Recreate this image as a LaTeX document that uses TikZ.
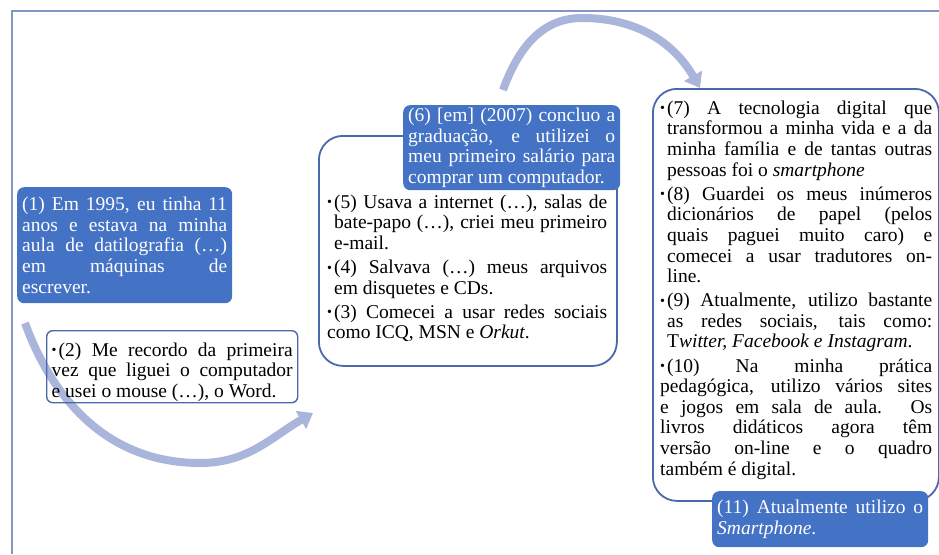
\documentclass[tikz,border=0pt]{standalone}
\usepackage{fontspec}
\setmainfont{Liberation Serif}
\usepackage{tikz}
\usetikzlibrary{arrows.meta,positioning}

\definecolor{boxblue}{RGB}{68,114,196}
\definecolor{edgeblue}{RGB}{74,104,172}
\definecolor{arcblue}{RGB}{170,181,220}
\definecolor{framegray}{RGB}{132,150,196}

\newcommand{\txtfont}{\fontsize{19.5}{20.6}\selectfont}
\newcommand{\bitem}{\par\setlength{\parskip}{3.5pt}\noindent
  \hangindent=7pt\hangafter=1%
  \makebox[7pt][l]{\raisebox{1.5pt}{\fontsize{14}{14}\selectfont\textbullet}}}

\begin{document}
\begin{tikzpicture}[x=1pt, y=1pt,
    bluebox/.style={fill=boxblue, text=white, rounded corners=7pt,
      anchor=north west, inner xsep=5pt, inner ysep=1pt,
      align=justify, font=\txtfont},
    linebox/.style={draw=edgeblue, line width=1.4pt, rounded corners=6pt,
      anchor=north west, inner xsep=5pt, inner ysep=1pt,
      align=justify, font=\txtfont},
    bigframe/.style={draw=edgeblue, line width=1.8pt, rounded corners=24pt,
      anchor=north west, inner sep=0pt},
    listtext/.style={anchor=north west, inner sep=0pt, align=justify,
      font=\txtfont},
    flow/.style={draw=arcblue, line width=8pt,
      -{Triangle[width=20pt,length=14pt]}}]

    \useasboundingbox (0,0) rectangle (939,-554);

    % outer frame
    \draw[framegray, line width=1.2pt] (12,-554) -- (12,-11) -- (939,-11);

    % frames of the two lists
    \node[bigframe, minimum width=298pt, minimum height=230pt] (mid) at (318,-135) {};
    \node[bigframe, minimum width=286pt, minimum height=412pt] (right) at (652,-88) {};

    % curved arrows
    \coordinate (lowstart) at (25,-323);
    \coordinate (lowbottom) at (200,-463);
    \coordinate (lowend) at (313,-413);
    \draw[flow] (lowstart) to[out=-70,in=180] (lowbottom) to[out=0,in=210] (lowend);

    \coordinate (topstart) at (503,-90);
    \coordinate (toppeak) at (582,-18);
    \coordinate (topend) at (700,-88);
    \draw[flow] (topstart) to[out=70,in=180] (toppeak) to[out=0,in=120] (topend);

    % boxes
    \node[bluebox, minimum height=116pt, text width=205pt] (year95) at (17,-187) {
        (1) Em 1995, eu tinha 11\linebreak
        anos e estava na minha\linebreak
        aula de datilografia (…)\linebreak
        em máquinas de\linebreak
        escrever.};

    \node[linebox, minimum height=72pt, text width=241pt] (firstpc) at (46,-330) {
        \bitem (2) Me recordo da primeira\linebreak
        vez que liguei o computador\linebreak
        e usei o mouse (…), o Word.};

    \node[bluebox, minimum height=85pt, text width=207pt] (grad) at (403,-105) {
        (6) [em] (2007) concluo a\linebreak
        graduação, e utilizei o\linebreak
        meu primeiro salário para\linebreak
        comprar um computador.};

    \node[listtext, text width=280pt] (early) at (327,-184) {
        \bitem (5) Usava a internet (…), salas de\linebreak
        bate-papo (…), criei meu primeiro\linebreak
        e-mail.
        \bitem (4) Salvava (…) meus arquivos\linebreak
        em disquetes e CDs.
        \bitem (3) Comecei a usar redes sociais\linebreak
        como ICQ, MSN e \textit{Orkut}.};

    \node[listtext, text width=272pt] (today) at (660,-90) {
        \bitem (7) A tecnologia digital que\linebreak
        transformou a minha vida e a da\linebreak
        minha família e de tantas outras\linebreak
        pessoas foi o \textit{smartphone}
        \bitem (8) Guardei os meus inúmeros\linebreak
        dicionários de papel (pelos\linebreak
        quais paguei muito caro) e\linebreak
        comecei a usar tradutores on-\linebreak
        line.
        \bitem (9) Atualmente, utilizo bastante\linebreak
        as redes sociais, tais como:\linebreak
        T\textit{witter, Facebook e Instagram}.
        \bitem (10) Na minha prática\linebreak
        pedagógica, utilizo vários sites\linebreak
        e jogos em sala de aula. Os\linebreak
        livros didáticos agora têm\linebreak
        versão on-line e o quadro\linebreak
        também é digital.};

    \node[bluebox, minimum height=56pt, text width=206pt] (phone) at (712,-491) {
        (11) Atualmente utilizo o\linebreak
        \textit{Smartphone}.};
\end{tikzpicture}
\end{document}
